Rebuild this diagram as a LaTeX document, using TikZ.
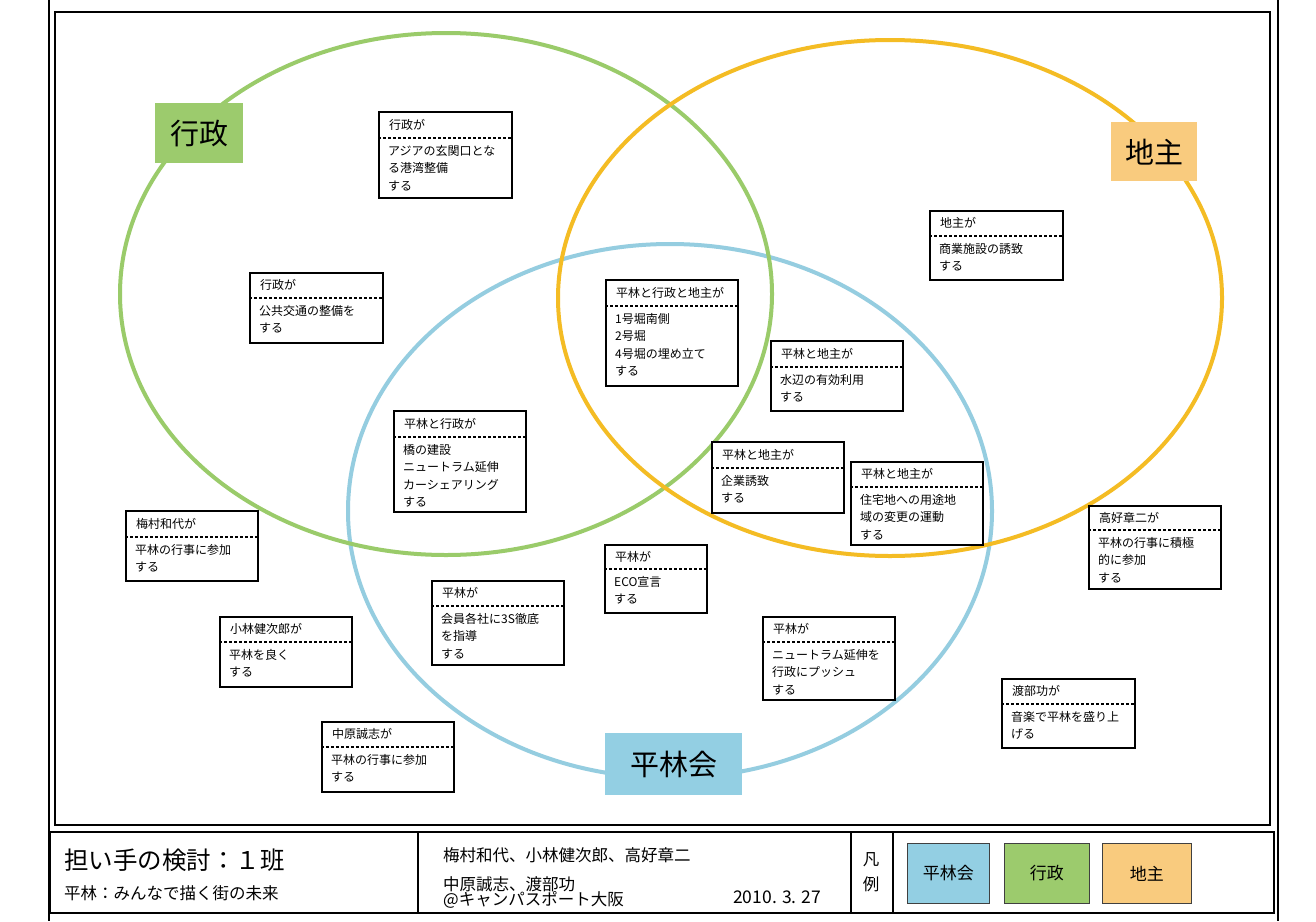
\documentclass[tikz,border=0pt]{standalone}
\usepackage{fontspec}
\setmainfont{Noto Sans CJK JP}
\usetikzlibrary{calc}
\definecolor{gline}{HTML}{9ACB6A}
\definecolor{oline}{HTML}{F4BC24}
\definecolor{bline}{HTML}{95CDE0}
\definecolor{gfill}{HTML}{9CCB6D}
\definecolor{ofill}{HTML}{F9CB7E}
\definecolor{bfill}{HTML}{93CFE3}
\tikzset{
  tb/.style={draw=black, line width=1.6pt, fill=white, anchor=north west, inner sep=0pt},
  tbhead/.style={anchor=west, inner sep=0pt, font=\fontsize{12}{12}\selectfont},
  tbbody/.style={anchor=north west, inner sep=0pt, align=left, font=\fontsize{12}{17.5}\selectfont},
  divider/.style={dash pattern=on 3pt off 2pt, line width=1.4pt},
  ell/.style={line width=4pt},
  biglabel/.style={anchor=north west, inner sep=0pt, font=\fontsize{29}{29}\selectfont},
  frame/.style={draw=black, line width=1.3pt},
  legend/.style={anchor=north west, inner sep=0pt, draw=black!75, line width=0.8pt, minimum width=#1, minimum height=60pt, font=\fontsize{17}{17}\selectfont},
  foot/.style={anchor=west, inner sep=0pt, font=\fontsize{16.5}{16.5}\selectfont}
}
\newcommand\tbx[8]{%
  \node[tb, minimum width=#4pt, minimum height=#5pt] (#1) at (#2,#3) {};
  \draw[divider] ($(#1.north west)+(0,#6)$) -- ($(#1.north east)+(0,#6)$);
  \node[tbhead] (#1h) at ($(#1.north west)+(11,#6/2)$) {#7};
  \node[tbbody] (#1b) at ($(#1.north west)+(10,#6+7)$) {#8};
}
\begin{document}
\begin{tikzpicture}[x=1pt,y=-1pt]
\useasboundingbox (0,0) rectangle (1316,921);
\fill[white] (0,0) rectangle (1316,921);
% frames
\draw[frame] (49,0) -- (49,921);
\draw[frame] (1278,0) -- (1278,921);
\draw[frame] (55,12) rectangle (1270,825);
% ellipses
\draw[ell, bline] (670,511) ellipse [x radius=322, y radius=267];
\draw[ell, gline] (446,294) ellipse [x radius=326, y radius=261];
\draw[ell, oline] (890,298) ellipse [x radius=332, y radius=258];
% big labels
\node[biglabel, fill=gfill, minimum width=88pt, minimum height=60pt] (lgyo) at (155,103) {行政};
\node[biglabel, fill=ofill, minimum width=86pt, minimum height=59pt] (ljin) at (1111,122) {地主};
\node[biglabel, fill=bfill, minimum width=137pt, minimum height=62pt] (lhira) at (605,733) {平林会};
% boxes
\tbx{b1}{378}{111}{133}{86}{27}{行政が}{アジアの玄関口とな\\る港湾整備\\する}
\tbx{b2}{249}{272}{133}{70}{26}{行政が}{公共交通の整備を\\する}
\tbx{b3}{605}{279}{132}{106}{27}{平林と行政と地主が}{1号堀南側\\2号堀\\4号堀の埋め立て\\する}
\tbx{b4}{929}{210}{133}{69}{26}{地主が}{商業施設の誘致\\する}
\tbx{b5}{770}{340}{132}{70}{27}{平林と地主が}{水辺の有効利用\\する}
\tbx{b6}{393}{410}{132}{101}{27}{平林と行政が}{橋の建設\\ニュートラム延伸\\カーシェアリング\\する}
\tbx{b7}{711}{441}{132}{71}{27}{平林と地主が}{企業誘致\\する}
\tbx{b8}{850}{461}{132}{83}{26}{平林と地主が}{住宅地への用途地\\域の変更の運動\\する}
\tbx{b9}{125}{510}{132}{70}{27}{梅村和代が}{平林の行事に参加\\する}
\tbx{b10}{604}{544}{102}{68}{25}{平林が}{ECO宣言\\する}
\tbx{b11}{431}{580}{132}{84}{26}{平林が}{会員各社に3S徹底\\を指導\\する}
\tbx{b12}{1088}{505}{132}{83}{25}{高好章二が}{平林の行事に積極\\的に参加\\する}
\tbx{b13}{219}{616}{132}{70}{26}{小林健次郎が}{平林を良く\\する}
\tbx{b14}{762}{616}{132}{83}{26}{平林が}{ニュートラム延伸を\\行政にプッシュ\\する}
\tbx{b15}{1001}{678}{133}{69}{26}{渡部功が}{音楽で平林を盛り上\\げる}
\tbx{b16}{321}{721}{132}{70}{26}{中原誠志が}{平林の行事に参加\\する}
% footer table
\draw[frame] (50,832) rectangle (1274,913);
\draw[frame] (418,832) -- (418,913);
\draw[frame] (851,832) -- (851,913);
\draw[frame] (893,832) -- (893,913);
\node[anchor=west, inner sep=0pt, font=\fontsize{24.5}{24.5}\selectfont] (ttl) at (64,860) {担い手の検討：１班};
\node[foot] (sub) at (64,893) {平林：みんなで描く街の未来};
\node[foot] (m1) at (443,855) {梅村和代、小林健次郎、高好章二};
\node[foot] (m2) at (443,884) {中原誠志、渡部功};
\node[foot] (m3) at (443,900) {@キャンパスポート大阪};
\node[foot, font=\fontsize{17.5}{17.5}\selectfont] (dt) at (733,897) {2010. 3. 27};
\node[foot, anchor=center] (h1) at (871,860) {凡};
\node[foot, anchor=center] (h2) at (871,884) {例};
\node[legend=82pt, fill=bfill] (k1) at (907,843) {平林会};
\node[legend=85pt, fill=gfill] (k2) at (1004,843) {行政};
\node[legend=89pt, fill=ofill] (k3) at (1102,843) {地主};
\end{tikzpicture}
\end{document}
